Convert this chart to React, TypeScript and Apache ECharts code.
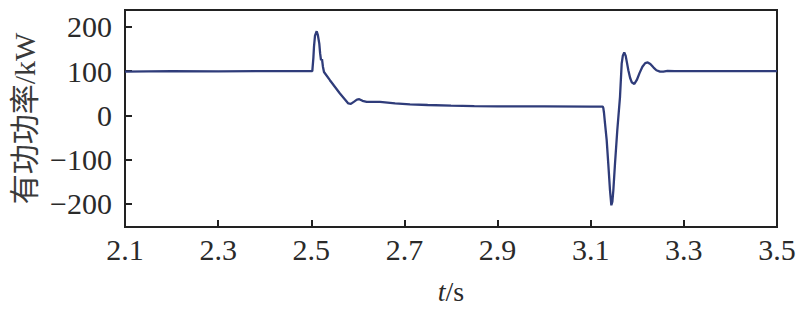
import React, { useEffect, useRef } from "react";
import * as echarts from "echarts";

const times = [
  2.1, 2.2, 2.3, 2.4, 2.5, 2.5022, 2.5045, 2.5058, 2.508, 2.5116, 2.514, 2.5172, 2.519, 2.5209, 2.523,
  2.525, 2.5273, 2.54, 2.5615, 2.5795, 2.585, 2.592, 2.598, 2.6031, 2.61, 2.619, 2.6476, 2.68, 2.712,
  2.75, 2.8, 2.85, 2.9, 3.0, 3.1, 3.12, 3.1257, 3.127, 3.1285, 3.1307, 3.1343, 3.1377, 3.1414, 3.1443,
  3.1465, 3.1486, 3.1522, 3.1571, 3.1629, 3.1665, 3.169, 3.172, 3.175, 3.178, 3.1808, 3.1845, 3.188,
  3.1937, 3.199, 3.205, 3.211, 3.217, 3.2224, 3.228, 3.235, 3.241, 3.2488, 3.256, 3.265, 3.28, 3.3,
  3.4, 3.5,
];
const power = [
  99, 100, 99.5, 100, 100, 100, 130, 155, 180, 190, 182, 162, 140, 125, 127,
  110, 98, 79.5, 49.5, 27, 26, 31, 35.5, 36.6, 33, 30.5, 30.5, 27, 25,
  23.5, 22, 21, 20.5, 20.5, 20, 20, 20, 17, 6, -18, -56, -109, -169, -203,
  -195, -169, -108, -33, 42, 117, 135, 142, 135, 118, 102, 85, 75,
  71, 80, 96, 110, 118, 119.5, 116, 108, 102, 99, 99, 100.5, 100, 100,
  100, 100,
];
const xTicks = [2.1, 2.3, 2.5, 2.7, 2.9, 3.1, 3.3, 3.5];
const yTicks = [-200, -100, 0, 100, 200];

const serif = "Liberation Serif";

export default function App() {
  const ref = useRef<HTMLDivElement>(null);
  useEffect(() => {
    if (!ref.current) return;
    const chart = echarts.init(ref.current, null, { renderer: "svg" });
    const axisColor = "#222";
    const textColor = "#2a2a2a";
    chart.setOption({
      animation: false,
      grid: {
        left: 125,
        right: 30,
        top: 10,
        bottom: 82,
        containLabel: false,
        outerBoundsMode: "none",
        show: true,
        borderColor: axisColor,
        borderWidth: 2,
        backgroundColor: "transparent",
      },
      xAxis: {
        type: "value",
        min: 2.1,
        max: 3.5,
        name: "{i|t}/s",
        nameLocation: "middle",
        nameGap: 50,
        nameTextStyle: {
          fontFamily: serif,
          fontSize: 28,
          lineHeight: 28,
          color: textColor,
          rich: {
            i: { fontFamily: serif, fontSize: 28, lineHeight: 28, fontStyle: "italic", color: textColor },
          },
        },
        axisLine: { show: true, onZero: false, lineStyle: { color: axisColor, width: 2 } },
        axisTick: {
          show: true,
          inside: true,
          length: 7,
          lineStyle: { color: axisColor, width: 2 },
          customValues: xTicks,
        },
        axisLabel: {
          customValues: xTicks,
          fontFamily: serif,
          fontSize: 30,
          color: textColor,
          margin: 7,
          formatter: (v: number) => v.toFixed(1),
        },
        splitLine: { show: false },
      },
      yAxis: {
        type: "value",
        min: -252,
        max: 238,
        name: "有功功率/kW",
        nameLocation: "middle",
        nameRotate: 90,
        nameGap: 80,
        nameTextStyle: {
          fontFamily: "Liberation Serif, Noto Sans CJK SC",
          fontSize: 30,
          color: "#3a3a3a",
        },
        axisLine: { show: true, onZero: false, lineStyle: { color: axisColor, width: 2 } },
        axisTick: {
          show: true,
          inside: true,
          length: 7,
          lineStyle: { color: axisColor, width: 2 },
          customValues: yTicks,
        },
        axisLabel: {
          customValues: yTicks,
          fontFamily: serif,
          fontSize: 30,
          color: textColor,
          margin: 13,
          formatter: (v: number) => String(v).replace("-", "\u2212"),
        },
        splitLine: { show: false },
      },
      series: [
        {
          type: "line",
          data: times.map((t, i) => [t, power[i]]),
          showSymbol: false,
          symbol: "none",
          lineStyle: { color: "#2f3c7a", width: 2.3 },
          itemStyle: { color: "#2f3c7a" },
        },
      ],
    });
    return () => chart.dispose();
  }, []);
  return <div ref={ref} style={{ width: 807, height: 309, position: "absolute", left: 0, top: 0 }} />;
}
